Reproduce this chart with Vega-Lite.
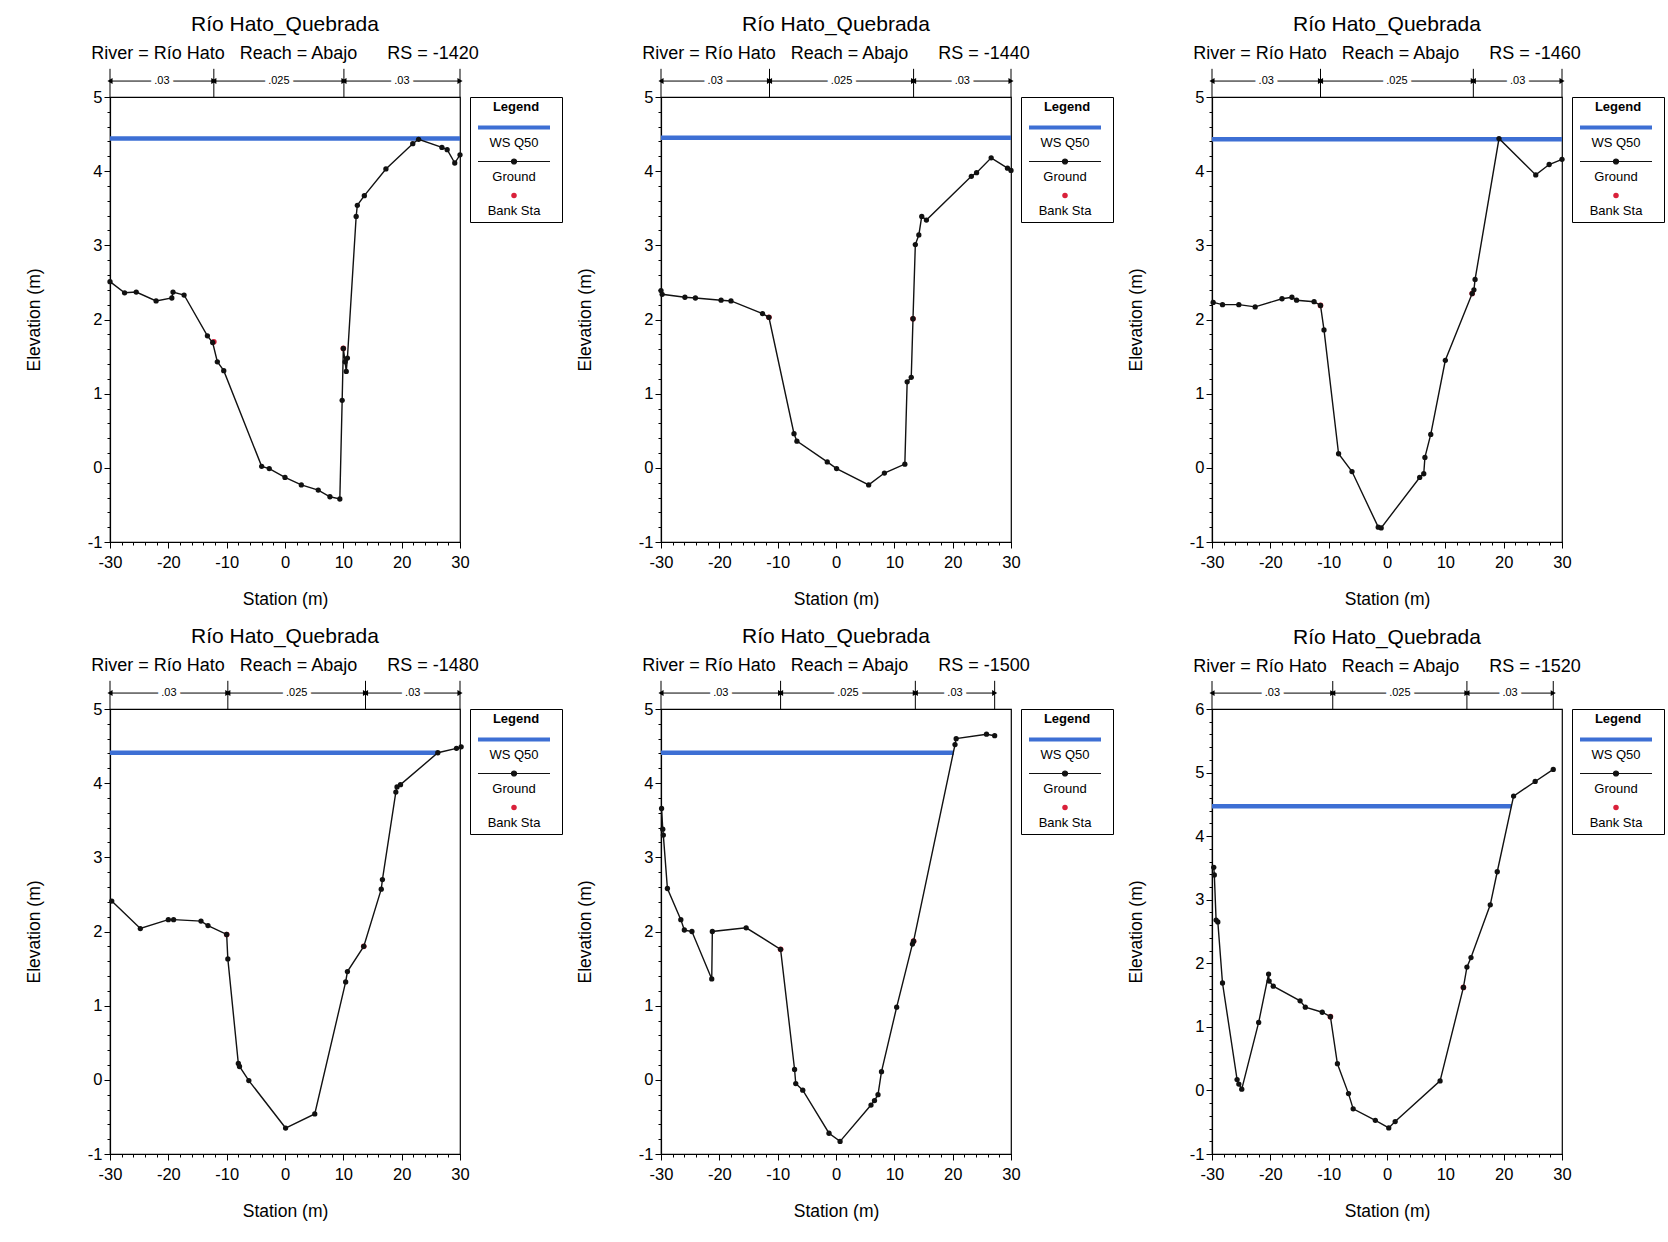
{
"$schema": "https://vega.github.io/schema/vega-lite/v6.json",
"background": "white",
"padding": {"left": 24, "top": 13, "right": 0, "bottom": 0},
"columns": 3,
"spacing": {"row": 16, "column": 11},
"resolve": {"scale": {"color": "independent"}, "legend": {"color": "independent"}},
"config": {
  "font": "Liberation Sans",
  "locale": {"number": {"decimal": ".", "thousands": ",", "grouping": [3], "currency": ["$", ""], "minus": "-"}},
  "view": {"stroke": "black", "strokeWidth": 1.2},
  "axis": {"domainColor": "black", "tickColor": "black", "labelColor": "black", "titleColor": "black", "labelFontSize": 16.5, "titleFontSize": 17.5, "titleFontWeight": "normal", "grid": false, "domainWidth": 1.2},
  "title": {"fontSize": 21, "fontWeight": "normal", "subtitleFontSize": 18, "subtitleColor": "black", "color": "black", "anchor": "middle", "frame": "group", "offset": 5, "subtitlePadding": 10}
},
"data": {"values": [
{"rs":-1420,"k":"w","s":-30,"e":4.44},{"rs":-1420,"k":"w","s":30,"e":4.44},
{"rs":-1420,"k":"m","s":-30,"s2":-12.2,"mid":-21.1,"n":".03"},{"rs":-1420,"k":"m","s":-12.2,"s2":10.1,"mid":-1.05,"n":".025"},{"rs":-1420,"k":"m","s":10.1,"s2":30,"mid":20.05,"n":".03"},
{"rs":-1420,"k":"v","s":-30},{"rs":-1420,"k":"v","s":-12.2},{"rs":-1420,"k":"v","s":10.1},{"rs":-1420,"k":"v","s":30},
{"rs":-1420,"k":"b","s":-12.2,"e":1.70},{"rs":-1420,"k":"b","s":10.0,"e":1.61},
{"rs":-1420,"k":"g","s":-30,"e":2.51},{"rs":-1420,"k":"g","s":-27.5,"e":2.36},{"rs":-1420,"k":"g","s":-25.5,"e":2.37},{"rs":-1420,"k":"g","s":-22.1,"e":2.25},{"rs":-1420,"k":"g","s":-19.4,"e":2.29},{"rs":-1420,"k":"g","s":-19.2,"e":2.37},{"rs":-1420,"k":"g","s":-17.3,"e":2.33},{"rs":-1420,"k":"g","s":-13.3,"e":1.78},{"rs":-1420,"k":"g","s":-12.4,"e":1.69},{"rs":-1420,"k":"g","s":-11.6,"e":1.43},{"rs":-1420,"k":"g","s":-10.5,"e":1.31},{"rs":-1420,"k":"g","s":-4.0,"e":0.02},{"rs":-1420,"k":"g","s":-2.7,"e":-0.01},{"rs":-1420,"k":"g","s":0,"e":-0.13},{"rs":-1420,"k":"g","s":2.8,"e":-0.23},{"rs":-1420,"k":"g","s":5.7,"e":-0.30},{"rs":-1420,"k":"g","s":7.7,"e":-0.39},{"rs":-1420,"k":"g","s":9.4,"e":-0.42},{"rs":-1420,"k":"g","s":9.8,"e":0.91},{"rs":-1420,"k":"g","s":10.0,"e":1.61},{"rs":-1420,"k":"g","s":10.3,"e":1.43},{"rs":-1420,"k":"g","s":10.5,"e":1.30},{"rs":-1420,"k":"g","s":10.7,"e":1.48},{"rs":-1420,"k":"g","s":12.2,"e":3.39},{"rs":-1420,"k":"g","s":12.4,"e":3.54},{"rs":-1420,"k":"g","s":13.6,"e":3.67},{"rs":-1420,"k":"g","s":17.3,"e":4.03},{"rs":-1420,"k":"g","s":21.9,"e":4.37},{"rs":-1420,"k":"g","s":22.9,"e":4.43},{"rs":-1420,"k":"g","s":26.9,"e":4.32},{"rs":-1420,"k":"g","s":27.8,"e":4.29},{"rs":-1420,"k":"g","s":29.1,"e":4.11},{"rs":-1420,"k":"g","s":30,"e":4.22},

{"rs":-1440,"k":"w","s":-30,"e":4.45},{"rs":-1440,"k":"w","s":30,"e":4.45},
{"rs":-1440,"k":"m","s":-30,"s2":-11.4,"mid":-20.7,"n":".03"},{"rs":-1440,"k":"m","s":-11.4,"s2":13.3,"mid":0.95,"n":".025"},{"rs":-1440,"k":"m","s":13.3,"s2":30,"mid":21.65,"n":".03"},
{"rs":-1440,"k":"v","s":-30},{"rs":-1440,"k":"v","s":-11.4},{"rs":-1440,"k":"v","s":13.3},{"rs":-1440,"k":"v","s":30},
{"rs":-1440,"k":"b","s":-11.5,"e":2.03},{"rs":-1440,"k":"b","s":13.2,"e":2.01},
{"rs":-1440,"k":"g","s":-30,"e":2.39},{"rs":-1440,"k":"g","s":-29.8,"e":2.34},{"rs":-1440,"k":"g","s":-25.9,"e":2.30},{"rs":-1440,"k":"g","s":-24.1,"e":2.29},{"rs":-1440,"k":"g","s":-19.7,"e":2.26},{"rs":-1440,"k":"g","s":-18.0,"e":2.25},{"rs":-1440,"k":"g","s":-12.6,"e":2.08},{"rs":-1440,"k":"g","s":-11.5,"e":2.03},{"rs":-1440,"k":"g","s":-7.2,"e":0.46},{"rs":-1440,"k":"g","s":-6.7,"e":0.36},{"rs":-1440,"k":"g","s":-1.5,"e":0.08},{"rs":-1440,"k":"g","s":0.1,"e":-0.01},{"rs":-1440,"k":"g","s":5.6,"e":-0.23},{"rs":-1440,"k":"g","s":8.3,"e":-0.07},{"rs":-1440,"k":"g","s":11.8,"e":0.05},{"rs":-1440,"k":"g","s":12.2,"e":1.16},{"rs":-1440,"k":"g","s":12.9,"e":1.22},{"rs":-1440,"k":"g","s":13.2,"e":2.01},{"rs":-1440,"k":"g","s":13.6,"e":3.01},{"rs":-1440,"k":"g","s":14.2,"e":3.14},{"rs":-1440,"k":"g","s":14.7,"e":3.39},{"rs":-1440,"k":"g","s":15.5,"e":3.34},{"rs":-1440,"k":"g","s":23.2,"e":3.93},{"rs":-1440,"k":"g","s":24.1,"e":3.98},{"rs":-1440,"k":"g","s":26.6,"e":4.18},{"rs":-1440,"k":"g","s":29.4,"e":4.04},{"rs":-1440,"k":"g","s":30,"e":4.01},

{"rs":-1460,"k":"w","s":-30,"e":4.43},{"rs":-1460,"k":"w","s":30,"e":4.43},
{"rs":-1460,"k":"m","s":-30,"s2":-11.4,"mid":-20.7,"n":".03"},{"rs":-1460,"k":"m","s":-11.4,"s2":14.8,"mid":1.7,"n":".025"},{"rs":-1460,"k":"m","s":14.8,"s2":30,"mid":22.4,"n":".03"},
{"rs":-1460,"k":"v","s":-30},{"rs":-1460,"k":"v","s":-11.4},{"rs":-1460,"k":"v","s":14.8},{"rs":-1460,"k":"v","s":30},
{"rs":-1460,"k":"b","s":-11.4,"e":2.19},{"rs":-1460,"k":"b","s":14.6,"e":2.35},
{"rs":-1460,"k":"g","s":-29.8,"e":2.23},{"rs":-1460,"k":"g","s":-28.2,"e":2.20},{"rs":-1460,"k":"g","s":-25.4,"e":2.20},{"rs":-1460,"k":"g","s":-22.6,"e":2.17},{"rs":-1460,"k":"g","s":-18.0,"e":2.28},{"rs":-1460,"k":"g","s":-16.3,"e":2.30},{"rs":-1460,"k":"g","s":-15.5,"e":2.26},{"rs":-1460,"k":"g","s":-12.5,"e":2.24},{"rs":-1460,"k":"g","s":-11.4,"e":2.19},{"rs":-1460,"k":"g","s":-10.8,"e":1.86},{"rs":-1460,"k":"g","s":-8.3,"e":0.19},{"rs":-1460,"k":"g","s":-6.0,"e":-0.05},{"rs":-1460,"k":"g","s":-1.5,"e":-0.80},{"rs":-1460,"k":"g","s":-1.0,"e":-0.81},{"rs":-1460,"k":"g","s":5.6,"e":-0.13},{"rs":-1460,"k":"g","s":6.3,"e":-0.08},{"rs":-1460,"k":"g","s":6.5,"e":0.14},{"rs":-1460,"k":"g","s":7.5,"e":0.45},{"rs":-1460,"k":"g","s":10.0,"e":1.45},{"rs":-1460,"k":"g","s":14.6,"e":2.35},{"rs":-1460,"k":"g","s":14.9,"e":2.40},{"rs":-1460,"k":"g","s":15.1,"e":2.54},{"rs":-1460,"k":"g","s":19.2,"e":4.44},{"rs":-1460,"k":"g","s":25.5,"e":3.95},{"rs":-1460,"k":"g","s":27.8,"e":4.09},{"rs":-1460,"k":"g","s":30,"e":4.16},

{"rs":-1480,"k":"w","s":-30,"e":4.41},{"rs":-1480,"k":"w","s":26.0,"e":4.41},
{"rs":-1480,"k":"m","s":-30,"s2":-9.8,"mid":-19.9,"n":".03"},{"rs":-1480,"k":"m","s":-9.8,"s2":13.8,"mid":2.0,"n":".025"},{"rs":-1480,"k":"m","s":13.8,"s2":30,"mid":21.9,"n":".03"},
{"rs":-1480,"k":"v","s":-30},{"rs":-1480,"k":"v","s":-9.8},{"rs":-1480,"k":"v","s":13.8},{"rs":-1480,"k":"v","s":30},
{"rs":-1480,"k":"b","s":-10.0,"e":1.96},{"rs":-1480,"k":"b","s":13.5,"e":1.80},
{"rs":-1480,"k":"g","s":-29.7,"e":2.41},{"rs":-1480,"k":"g","s":-24.8,"e":2.04},{"rs":-1480,"k":"g","s":-20.0,"e":2.16},{"rs":-1480,"k":"g","s":-19.1,"e":2.16},{"rs":-1480,"k":"g","s":-14.4,"e":2.14},{"rs":-1480,"k":"g","s":-13.2,"e":2.08},{"rs":-1480,"k":"g","s":-10.0,"e":1.96},{"rs":-1480,"k":"g","s":-9.8,"e":1.63},{"rs":-1480,"k":"g","s":-8.0,"e":0.22},{"rs":-1480,"k":"g","s":-7.8,"e":0.18},{"rs":-1480,"k":"g","s":-6.2,"e":-0.01},{"rs":-1480,"k":"g","s":0.1,"e":-0.65},{"rs":-1480,"k":"g","s":5.1,"e":-0.46},{"rs":-1480,"k":"g","s":10.4,"e":1.32},{"rs":-1480,"k":"g","s":10.7,"e":1.46},{"rs":-1480,"k":"g","s":13.5,"e":1.80},{"rs":-1480,"k":"g","s":16.5,"e":2.57},{"rs":-1480,"k":"g","s":16.7,"e":2.70},{"rs":-1480,"k":"g","s":19.0,"e":3.88},{"rs":-1480,"k":"g","s":19.2,"e":3.95},{"rs":-1480,"k":"g","s":19.8,"e":3.98},{"rs":-1480,"k":"g","s":26.2,"e":4.41},{"rs":-1480,"k":"g","s":29.4,"e":4.47},{"rs":-1480,"k":"g","s":30.2,"e":4.49},

{"rs":-1500,"k":"w","s":-30,"e":4.41},{"rs":-1500,"k":"w","s":20.2,"e":4.41},
{"rs":-1500,"k":"m","s":-30,"s2":-9.5,"mid":-19.75,"n":".03"},{"rs":-1500,"k":"m","s":-9.5,"s2":13.6,"mid":2.05,"n":".025"},{"rs":-1500,"k":"m","s":13.6,"s2":27.2,"mid":20.4,"n":".03"},
{"rs":-1500,"k":"v","s":-30},{"rs":-1500,"k":"v","s":-9.5},{"rs":-1500,"k":"v","s":13.6},{"rs":-1500,"k":"v","s":27.2},
{"rs":-1500,"k":"b","s":-9.5,"e":1.76},{"rs":-1500,"k":"b","s":13.3,"e":1.87},
{"rs":-1500,"k":"g","s":-29.9,"e":3.66},{"rs":-1500,"k":"g","s":-29.7,"e":3.38},{"rs":-1500,"k":"g","s":-29.6,"e":3.30},{"rs":-1500,"k":"g","s":-28.9,"e":2.58},{"rs":-1500,"k":"g","s":-26.6,"e":2.16},{"rs":-1500,"k":"g","s":-26.0,"e":2.02},{"rs":-1500,"k":"g","s":-24.7,"e":2.00},{"rs":-1500,"k":"g","s":-21.3,"e":1.36},{"rs":-1500,"k":"g","s":-21.2,"e":2.00},{"rs":-1500,"k":"g","s":-15.4,"e":2.05},{"rs":-1500,"k":"g","s":-9.5,"e":1.76},{"rs":-1500,"k":"g","s":-7.1,"e":0.14},{"rs":-1500,"k":"g","s":-6.9,"e":-0.05},{"rs":-1500,"k":"g","s":-5.7,"e":-0.14},{"rs":-1500,"k":"g","s":-1.2,"e":-0.72},{"rs":-1500,"k":"g","s":0.7,"e":-0.83},{"rs":-1500,"k":"g","s":6.0,"e":-0.34},{"rs":-1500,"k":"g","s":6.6,"e":-0.28},{"rs":-1500,"k":"g","s":7.2,"e":-0.20},{"rs":-1500,"k":"g","s":7.8,"e":0.11},{"rs":-1500,"k":"g","s":10.4,"e":0.98},{"rs":-1500,"k":"g","s":13.1,"e":1.83},{"rs":-1500,"k":"g","s":13.3,"e":1.87},{"rs":-1500,"k":"g","s":20.4,"e":4.52},{"rs":-1500,"k":"g","s":20.6,"e":4.60},{"rs":-1500,"k":"g","s":25.8,"e":4.66},{"rs":-1500,"k":"g","s":27.2,"e":4.64},

{"rs":-1520,"k":"w","s":-30,"e":4.47},{"rs":-1520,"k":"w","s":21.3,"e":4.47},
{"rs":-1520,"k":"m","s":-30,"s2":-9.3,"mid":-19.65,"n":".03"},{"rs":-1520,"k":"m","s":-9.3,"s2":13.7,"mid":2.2,"n":".025"},{"rs":-1520,"k":"m","s":13.7,"s2":28.5,"mid":21.1,"n":".03"},
{"rs":-1520,"k":"v","s":-30},{"rs":-1520,"k":"v","s":-9.3},{"rs":-1520,"k":"v","s":13.7},{"rs":-1520,"k":"v","s":28.5},
{"rs":-1520,"k":"b","s":-9.7,"e":1.16},{"rs":-1520,"k":"b","s":13.1,"e":1.62},
{"rs":-1520,"k":"g","s":-29.7,"e":3.51},{"rs":-1520,"k":"g","s":-29.6,"e":3.39},{"rs":-1520,"k":"g","s":-29.3,"e":2.68},{"rs":-1520,"k":"g","s":-29.0,"e":2.65},{"rs":-1520,"k":"g","s":-28.2,"e":1.69},{"rs":-1520,"k":"g","s":-25.7,"e":0.17},{"rs":-1520,"k":"g","s":-25.4,"e":0.10},{"rs":-1520,"k":"g","s":-24.9,"e":0.02},{"rs":-1520,"k":"g","s":-22.0,"e":1.07},{"rs":-1520,"k":"g","s":-20.3,"e":1.83},{"rs":-1520,"k":"g","s":-20.2,"e":1.72},{"rs":-1520,"k":"g","s":-19.5,"e":1.64},{"rs":-1520,"k":"g","s":-14.9,"e":1.41},{"rs":-1520,"k":"g","s":-14.0,"e":1.31},{"rs":-1520,"k":"g","s":-11.1,"e":1.23},{"rs":-1520,"k":"g","s":-9.7,"e":1.16},{"rs":-1520,"k":"g","s":-8.5,"e":0.42},{"rs":-1520,"k":"g","s":-6.6,"e":-0.05},{"rs":-1520,"k":"g","s":-5.8,"e":-0.29},{"rs":-1520,"k":"g","s":-2.0,"e":-0.47},{"rs":-1520,"k":"g","s":0.3,"e":-0.59},{"rs":-1520,"k":"g","s":1.4,"e":-0.49},{"rs":-1520,"k":"g","s":9.1,"e":0.15},{"rs":-1520,"k":"g","s":13.1,"e":1.62},{"rs":-1520,"k":"g","s":13.7,"e":1.94},{"rs":-1520,"k":"g","s":14.4,"e":2.09},{"rs":-1520,"k":"g","s":17.7,"e":2.92},{"rs":-1520,"k":"g","s":18.9,"e":3.44},{"rs":-1520,"k":"g","s":21.7,"e":4.63},{"rs":-1520,"k":"g","s":25.4,"e":4.86},{"rs":-1520,"k":"g","s":28.5,"e":5.05}
]},
"concat": [
{"width":350,"height":445,
 "title":{"text":"Río Hato_Quebrada","subtitle":"River = Río Hato\u00a0\u00a0\u00a0Reach = Abajo\u00a0\u00a0\u00a0\u00a0\u00a0\u00a0RS = -1420"},
 "transform":[{"filter":"datum.rs == -1420"}],
 "resolve":{"axis":{"x":"independent","y":"independent"}},
 "layer":[
 {"layer":[
  {"transform":[{"filter":"datum.k=='w'"}],"mark":{"type":"line","strokeWidth":4.5},
   "encoding":{
    "x":{"field":"s","type":"quantitative","title":"Station (m)","scale":{"domain":[-30,30],"nice":false,"zero":false},"axis":{"values":[-30,-20,-10,0,10,20,30],"format":"d","tickSize":6,"labelPadding":6,"labelOverlap":false,"labelFlush":false,"titlePadding":20}},
    "y":{"field":"e","type":"quantitative","title":"Elevation (m)","scale":{"domain":[-1,5],"nice":false,"zero":false},"axis":{"values":[-1,0,1,2,3,4,5],"format":"d","tickSize":6,"labelPadding":2,"labelOverlap":false,"labelFlush":false,"titlePadding":44}},
    "color":{"datum":"WS Q50","type":"nominal","scale":{"domain":["WS Q50","Ground","Bank Sta"],"range":["#3d6fd4","#111111","#d9203a"]},
     "legend":{"title":"Legend","orient":"right","offset":10,"titleAnchor":"middle","titleFontSize":13,"titleFontWeight":"bold","titlePadding":7,"labelFontSize":13,"strokeColor":"black","fillColor":"white","padding":4,"symbolSize":900,"rowPadding":5,
      "encode":{"symbols":{"update":{"x":{"value":40},"shape":{"signal":"datum.value === 'Bank Sta' ? 'circle' : (datum.value === 'Ground' ? 'M-1,0L1,0M-0.07,0A0.07,0.07,0,1,0,0.07,0A0.07,0.07,0,1,0,-0.07,0Z' : 'stroke')"},"size":{"signal":"datum.value === 'Bank Sta' ? 30 : 5184"},"strokeWidth":{"signal":"datum.value === 'WS Q50' ? 4 : (datum.value === 'Ground' ? 1.2 : 0)"},"stroke":{"signal":"datum.value === 'WS Q50' ? '#3d6fd4' : (datum.value === 'Ground' ? '#111111' : 'transparent')"},"fill":{"signal":"datum.value === 'Bank Sta' ? '#d9203a' : (datum.value === 'Ground' ? '#111111' : 'transparent')"},"opacity":{"value":1}}},"labels":{"update":{"x":{"value":40},"align":{"value":"center"},"dy":{"value":15}}}}}}}},
  {"transform":[{"filter":"datum.k=='m'"}],"mark":{"type":"rule","color":"black","strokeWidth":1},"encoding":{"x":{"field":"s","type":"quantitative"},"x2":{"field":"s2"},"y":{"datum":5.215}}},
  {"transform":[{"filter":"datum.k=='m'"}],"mark":{"type":"text","color":"white","stroke":"white","strokeWidth":8,"fontSize":11},"encoding":{"x":{"field":"mid","type":"quantitative"},"y":{"datum":5.215},"text":{"field":"n"}}},
  {"transform":[{"filter":"datum.k=='m'"}],"mark":{"type":"text","color":"black","fontSize":11},"encoding":{"x":{"field":"mid","type":"quantitative"},"y":{"datum":5.215},"text":{"field":"n"}}},
  {"transform":[{"filter":"datum.k=='m'"}],"mark":{"type":"point","shape":"triangle-left","filled":true,"color":"black","size":35,"opacity":1},"encoding":{"x":{"field":"s","type":"quantitative"},"y":{"datum":5.215}}},
  {"transform":[{"filter":"datum.k=='m'"}],"mark":{"type":"point","shape":"triangle-right","filled":true,"color":"black","size":35,"opacity":1},"encoding":{"x":{"field":"s2","type":"quantitative"},"y":{"datum":5.215}}},
  {"transform":[{"filter":"datum.k=='v'"}],"mark":{"type":"rule","color":"black","strokeWidth":1},"encoding":{"x":{"field":"s","type":"quantitative"},"y":{"datum":5},"y2":{"datum":5.38}}},
  {"transform":[{"filter":"datum.k=='b'"}],"mark":{"type":"point","filled":true,"size":32,"opacity":1},"encoding":{"x":{"field":"s","type":"quantitative"},"y":{"field":"e","type":"quantitative"},"color":{"datum":"Bank Sta","type":"nominal"}}},
  {"transform":[{"filter":"datum.k=='g'"}],"mark":{"type":"line","strokeWidth":1.4,"point":{"filled":true,"size":28,"opacity":1}},"encoding":{"x":{"field":"s","type":"quantitative"},"y":{"field":"e","type":"quantitative"},"color":{"datum":"Ground","type":"nominal"}}}
 ]},
 {"transform":[{"filter":"datum.k=='w'"}],"mark":{"type":"point","opacity":0},
  "encoding":{
   "x":{"field":"s","type":"quantitative","axis":{"orient":"bottom","values":[-30,-28,-26,-24,-22,-20,-18,-16,-14,-12,-10,-8,-6,-4,-2,0,2,4,6,8,10,12,14,16,18,20,22,24,26,28,30],"labels":false,"domain":false,"title":null,"tickSize":3}},
   "y":{"field":"e","type":"quantitative","axis":{"orient":"left","values":[-1,-0.8,-0.6,-0.4,-0.2,0,0.2,0.4,0.6,0.8,1,1.2,1.4,1.6,1.8,2,2.2,2.4,2.6,2.8,3,3.2,3.4,3.6,3.8,4,4.2,4.4,4.6,4.8,5],"labels":false,"domain":false,"title":null,"tickSize":3}}}}
 ]},
{"width":350,"height":445,
 "title":{"text":"Río Hato_Quebrada","subtitle":"River = Río Hato\u00a0\u00a0\u00a0Reach = Abajo\u00a0\u00a0\u00a0\u00a0\u00a0\u00a0RS = -1440"},
 "transform":[{"filter":"datum.rs == -1440"}],
 "resolve":{"axis":{"x":"independent","y":"independent"}},
 "layer":[
 {"layer":[
  {"transform":[{"filter":"datum.k=='w'"}],"mark":{"type":"line","strokeWidth":4.5},
   "encoding":{
    "x":{"field":"s","type":"quantitative","title":"Station (m)","scale":{"domain":[-30,30],"nice":false,"zero":false},"axis":{"values":[-30,-20,-10,0,10,20,30],"format":"d","tickSize":6,"labelPadding":6,"labelOverlap":false,"labelFlush":false,"titlePadding":20}},
    "y":{"field":"e","type":"quantitative","title":"Elevation (m)","scale":{"domain":[-1,5],"nice":false,"zero":false},"axis":{"values":[-1,0,1,2,3,4,5],"format":"d","tickSize":6,"labelPadding":2,"labelOverlap":false,"labelFlush":false,"titlePadding":44}},
    "color":{"datum":"WS Q50","type":"nominal","scale":{"domain":["WS Q50","Ground","Bank Sta"],"range":["#3d6fd4","#111111","#d9203a"]},
     "legend":{"title":"Legend","orient":"right","offset":10,"titleAnchor":"middle","titleFontSize":13,"titleFontWeight":"bold","titlePadding":7,"labelFontSize":13,"strokeColor":"black","fillColor":"white","padding":4,"symbolSize":900,"rowPadding":5,
      "encode":{"symbols":{"update":{"x":{"value":40},"shape":{"signal":"datum.value === 'Bank Sta' ? 'circle' : (datum.value === 'Ground' ? 'M-1,0L1,0M-0.07,0A0.07,0.07,0,1,0,0.07,0A0.07,0.07,0,1,0,-0.07,0Z' : 'stroke')"},"size":{"signal":"datum.value === 'Bank Sta' ? 30 : 5184"},"strokeWidth":{"signal":"datum.value === 'WS Q50' ? 4 : (datum.value === 'Ground' ? 1.2 : 0)"},"stroke":{"signal":"datum.value === 'WS Q50' ? '#3d6fd4' : (datum.value === 'Ground' ? '#111111' : 'transparent')"},"fill":{"signal":"datum.value === 'Bank Sta' ? '#d9203a' : (datum.value === 'Ground' ? '#111111' : 'transparent')"},"opacity":{"value":1}}},"labels":{"update":{"x":{"value":40},"align":{"value":"center"},"dy":{"value":15}}}}}}}},
  {"transform":[{"filter":"datum.k=='m'"}],"mark":{"type":"rule","color":"black","strokeWidth":1},"encoding":{"x":{"field":"s","type":"quantitative"},"x2":{"field":"s2"},"y":{"datum":5.215}}},
  {"transform":[{"filter":"datum.k=='m'"}],"mark":{"type":"text","color":"white","stroke":"white","strokeWidth":8,"fontSize":11},"encoding":{"x":{"field":"mid","type":"quantitative"},"y":{"datum":5.215},"text":{"field":"n"}}},
  {"transform":[{"filter":"datum.k=='m'"}],"mark":{"type":"text","color":"black","fontSize":11},"encoding":{"x":{"field":"mid","type":"quantitative"},"y":{"datum":5.215},"text":{"field":"n"}}},
  {"transform":[{"filter":"datum.k=='m'"}],"mark":{"type":"point","shape":"triangle-left","filled":true,"color":"black","size":35,"opacity":1},"encoding":{"x":{"field":"s","type":"quantitative"},"y":{"datum":5.215}}},
  {"transform":[{"filter":"datum.k=='m'"}],"mark":{"type":"point","shape":"triangle-right","filled":true,"color":"black","size":35,"opacity":1},"encoding":{"x":{"field":"s2","type":"quantitative"},"y":{"datum":5.215}}},
  {"transform":[{"filter":"datum.k=='v'"}],"mark":{"type":"rule","color":"black","strokeWidth":1},"encoding":{"x":{"field":"s","type":"quantitative"},"y":{"datum":5},"y2":{"datum":5.38}}},
  {"transform":[{"filter":"datum.k=='b'"}],"mark":{"type":"point","filled":true,"size":32,"opacity":1},"encoding":{"x":{"field":"s","type":"quantitative"},"y":{"field":"e","type":"quantitative"},"color":{"datum":"Bank Sta","type":"nominal"}}},
  {"transform":[{"filter":"datum.k=='g'"}],"mark":{"type":"line","strokeWidth":1.4,"point":{"filled":true,"size":28,"opacity":1}},"encoding":{"x":{"field":"s","type":"quantitative"},"y":{"field":"e","type":"quantitative"},"color":{"datum":"Ground","type":"nominal"}}}
 ]},
 {"transform":[{"filter":"datum.k=='w'"}],"mark":{"type":"point","opacity":0},
  "encoding":{
   "x":{"field":"s","type":"quantitative","axis":{"orient":"bottom","values":[-30,-28,-26,-24,-22,-20,-18,-16,-14,-12,-10,-8,-6,-4,-2,0,2,4,6,8,10,12,14,16,18,20,22,24,26,28,30],"labels":false,"domain":false,"title":null,"tickSize":3}},
   "y":{"field":"e","type":"quantitative","axis":{"orient":"left","values":[-1,-0.8,-0.6,-0.4,-0.2,0,0.2,0.4,0.6,0.8,1,1.2,1.4,1.6,1.8,2,2.2,2.4,2.6,2.8,3,3.2,3.4,3.6,3.8,4,4.2,4.4,4.6,4.8,5],"labels":false,"domain":false,"title":null,"tickSize":3}}}}
 ]},
{"width":350,"height":445,
 "title":{"text":"Río Hato_Quebrada","subtitle":"River = Río Hato\u00a0\u00a0\u00a0Reach = Abajo\u00a0\u00a0\u00a0\u00a0\u00a0\u00a0RS = -1460"},
 "transform":[{"filter":"datum.rs == -1460"}],
 "resolve":{"axis":{"x":"independent","y":"independent"}},
 "layer":[
 {"layer":[
  {"transform":[{"filter":"datum.k=='w'"}],"mark":{"type":"line","strokeWidth":4.5},
   "encoding":{
    "x":{"field":"s","type":"quantitative","title":"Station (m)","scale":{"domain":[-30,30],"nice":false,"zero":false},"axis":{"values":[-30,-20,-10,0,10,20,30],"format":"d","tickSize":6,"labelPadding":6,"labelOverlap":false,"labelFlush":false,"titlePadding":20}},
    "y":{"field":"e","type":"quantitative","title":"Elevation (m)","scale":{"domain":[-1,5],"nice":false,"zero":false},"axis":{"values":[-1,0,1,2,3,4,5],"format":"d","tickSize":6,"labelPadding":2,"labelOverlap":false,"labelFlush":false,"titlePadding":44}},
    "color":{"datum":"WS Q50","type":"nominal","scale":{"domain":["WS Q50","Ground","Bank Sta"],"range":["#3d6fd4","#111111","#d9203a"]},
     "legend":{"title":"Legend","orient":"right","offset":10,"titleAnchor":"middle","titleFontSize":13,"titleFontWeight":"bold","titlePadding":7,"labelFontSize":13,"strokeColor":"black","fillColor":"white","padding":4,"symbolSize":900,"rowPadding":5,
      "encode":{"symbols":{"update":{"x":{"value":40},"shape":{"signal":"datum.value === 'Bank Sta' ? 'circle' : (datum.value === 'Ground' ? 'M-1,0L1,0M-0.07,0A0.07,0.07,0,1,0,0.07,0A0.07,0.07,0,1,0,-0.07,0Z' : 'stroke')"},"size":{"signal":"datum.value === 'Bank Sta' ? 30 : 5184"},"strokeWidth":{"signal":"datum.value === 'WS Q50' ? 4 : (datum.value === 'Ground' ? 1.2 : 0)"},"stroke":{"signal":"datum.value === 'WS Q50' ? '#3d6fd4' : (datum.value === 'Ground' ? '#111111' : 'transparent')"},"fill":{"signal":"datum.value === 'Bank Sta' ? '#d9203a' : (datum.value === 'Ground' ? '#111111' : 'transparent')"},"opacity":{"value":1}}},"labels":{"update":{"x":{"value":40},"align":{"value":"center"},"dy":{"value":15}}}}}}}},
  {"transform":[{"filter":"datum.k=='m'"}],"mark":{"type":"rule","color":"black","strokeWidth":1},"encoding":{"x":{"field":"s","type":"quantitative"},"x2":{"field":"s2"},"y":{"datum":5.215}}},
  {"transform":[{"filter":"datum.k=='m'"}],"mark":{"type":"text","color":"white","stroke":"white","strokeWidth":8,"fontSize":11},"encoding":{"x":{"field":"mid","type":"quantitative"},"y":{"datum":5.215},"text":{"field":"n"}}},
  {"transform":[{"filter":"datum.k=='m'"}],"mark":{"type":"text","color":"black","fontSize":11},"encoding":{"x":{"field":"mid","type":"quantitative"},"y":{"datum":5.215},"text":{"field":"n"}}},
  {"transform":[{"filter":"datum.k=='m'"}],"mark":{"type":"point","shape":"triangle-left","filled":true,"color":"black","size":35,"opacity":1},"encoding":{"x":{"field":"s","type":"quantitative"},"y":{"datum":5.215}}},
  {"transform":[{"filter":"datum.k=='m'"}],"mark":{"type":"point","shape":"triangle-right","filled":true,"color":"black","size":35,"opacity":1},"encoding":{"x":{"field":"s2","type":"quantitative"},"y":{"datum":5.215}}},
  {"transform":[{"filter":"datum.k=='v'"}],"mark":{"type":"rule","color":"black","strokeWidth":1},"encoding":{"x":{"field":"s","type":"quantitative"},"y":{"datum":5},"y2":{"datum":5.38}}},
  {"transform":[{"filter":"datum.k=='b'"}],"mark":{"type":"point","filled":true,"size":32,"opacity":1},"encoding":{"x":{"field":"s","type":"quantitative"},"y":{"field":"e","type":"quantitative"},"color":{"datum":"Bank Sta","type":"nominal"}}},
  {"transform":[{"filter":"datum.k=='g'"}],"mark":{"type":"line","strokeWidth":1.4,"point":{"filled":true,"size":28,"opacity":1}},"encoding":{"x":{"field":"s","type":"quantitative"},"y":{"field":"e","type":"quantitative"},"color":{"datum":"Ground","type":"nominal"}}}
 ]},
 {"transform":[{"filter":"datum.k=='w'"}],"mark":{"type":"point","opacity":0},
  "encoding":{
   "x":{"field":"s","type":"quantitative","axis":{"orient":"bottom","values":[-30,-28,-26,-24,-22,-20,-18,-16,-14,-12,-10,-8,-6,-4,-2,0,2,4,6,8,10,12,14,16,18,20,22,24,26,28,30],"labels":false,"domain":false,"title":null,"tickSize":3}},
   "y":{"field":"e","type":"quantitative","axis":{"orient":"left","values":[-1,-0.8,-0.6,-0.4,-0.2,0,0.2,0.4,0.6,0.8,1,1.2,1.4,1.6,1.8,2,2.2,2.4,2.6,2.8,3,3.2,3.4,3.6,3.8,4,4.2,4.4,4.6,4.8,5],"labels":false,"domain":false,"title":null,"tickSize":3}}}}
 ]},
{"width":350,"height":445,
 "title":{"text":"Río Hato_Quebrada","subtitle":"River = Río Hato\u00a0\u00a0\u00a0Reach = Abajo\u00a0\u00a0\u00a0\u00a0\u00a0\u00a0RS = -1480"},
 "transform":[{"filter":"datum.rs == -1480"}],
 "resolve":{"axis":{"x":"independent","y":"independent"}},
 "layer":[
 {"layer":[
  {"transform":[{"filter":"datum.k=='w'"}],"mark":{"type":"line","strokeWidth":4.5},
   "encoding":{
    "x":{"field":"s","type":"quantitative","title":"Station (m)","scale":{"domain":[-30,30],"nice":false,"zero":false},"axis":{"values":[-30,-20,-10,0,10,20,30],"format":"d","tickSize":6,"labelPadding":6,"labelOverlap":false,"labelFlush":false,"titlePadding":20}},
    "y":{"field":"e","type":"quantitative","title":"Elevation (m)","scale":{"domain":[-1,5],"nice":false,"zero":false},"axis":{"values":[-1,0,1,2,3,4,5],"format":"d","tickSize":6,"labelPadding":2,"labelOverlap":false,"labelFlush":false,"titlePadding":44}},
    "color":{"datum":"WS Q50","type":"nominal","scale":{"domain":["WS Q50","Ground","Bank Sta"],"range":["#3d6fd4","#111111","#d9203a"]},
     "legend":{"title":"Legend","orient":"right","offset":10,"titleAnchor":"middle","titleFontSize":13,"titleFontWeight":"bold","titlePadding":7,"labelFontSize":13,"strokeColor":"black","fillColor":"white","padding":4,"symbolSize":900,"rowPadding":5,
      "encode":{"symbols":{"update":{"x":{"value":40},"shape":{"signal":"datum.value === 'Bank Sta' ? 'circle' : (datum.value === 'Ground' ? 'M-1,0L1,0M-0.07,0A0.07,0.07,0,1,0,0.07,0A0.07,0.07,0,1,0,-0.07,0Z' : 'stroke')"},"size":{"signal":"datum.value === 'Bank Sta' ? 30 : 5184"},"strokeWidth":{"signal":"datum.value === 'WS Q50' ? 4 : (datum.value === 'Ground' ? 1.2 : 0)"},"stroke":{"signal":"datum.value === 'WS Q50' ? '#3d6fd4' : (datum.value === 'Ground' ? '#111111' : 'transparent')"},"fill":{"signal":"datum.value === 'Bank Sta' ? '#d9203a' : (datum.value === 'Ground' ? '#111111' : 'transparent')"},"opacity":{"value":1}}},"labels":{"update":{"x":{"value":40},"align":{"value":"center"},"dy":{"value":15}}}}}}}},
  {"transform":[{"filter":"datum.k=='m'"}],"mark":{"type":"rule","color":"black","strokeWidth":1},"encoding":{"x":{"field":"s","type":"quantitative"},"x2":{"field":"s2"},"y":{"datum":5.215}}},
  {"transform":[{"filter":"datum.k=='m'"}],"mark":{"type":"text","color":"white","stroke":"white","strokeWidth":8,"fontSize":11},"encoding":{"x":{"field":"mid","type":"quantitative"},"y":{"datum":5.215},"text":{"field":"n"}}},
  {"transform":[{"filter":"datum.k=='m'"}],"mark":{"type":"text","color":"black","fontSize":11},"encoding":{"x":{"field":"mid","type":"quantitative"},"y":{"datum":5.215},"text":{"field":"n"}}},
  {"transform":[{"filter":"datum.k=='m'"}],"mark":{"type":"point","shape":"triangle-left","filled":true,"color":"black","size":35,"opacity":1},"encoding":{"x":{"field":"s","type":"quantitative"},"y":{"datum":5.215}}},
  {"transform":[{"filter":"datum.k=='m'"}],"mark":{"type":"point","shape":"triangle-right","filled":true,"color":"black","size":35,"opacity":1},"encoding":{"x":{"field":"s2","type":"quantitative"},"y":{"datum":5.215}}},
  {"transform":[{"filter":"datum.k=='v'"}],"mark":{"type":"rule","color":"black","strokeWidth":1},"encoding":{"x":{"field":"s","type":"quantitative"},"y":{"datum":5},"y2":{"datum":5.38}}},
  {"transform":[{"filter":"datum.k=='b'"}],"mark":{"type":"point","filled":true,"size":32,"opacity":1},"encoding":{"x":{"field":"s","type":"quantitative"},"y":{"field":"e","type":"quantitative"},"color":{"datum":"Bank Sta","type":"nominal"}}},
  {"transform":[{"filter":"datum.k=='g'"}],"mark":{"type":"line","strokeWidth":1.4,"point":{"filled":true,"size":28,"opacity":1}},"encoding":{"x":{"field":"s","type":"quantitative"},"y":{"field":"e","type":"quantitative"},"color":{"datum":"Ground","type":"nominal"}}}
 ]},
 {"transform":[{"filter":"datum.k=='w'"}],"mark":{"type":"point","opacity":0},
  "encoding":{
   "x":{"field":"s","type":"quantitative","axis":{"orient":"bottom","values":[-30,-28,-26,-24,-22,-20,-18,-16,-14,-12,-10,-8,-6,-4,-2,0,2,4,6,8,10,12,14,16,18,20,22,24,26,28,30],"labels":false,"domain":false,"title":null,"tickSize":3}},
   "y":{"field":"e","type":"quantitative","axis":{"orient":"left","values":[-1,-0.8,-0.6,-0.4,-0.2,0,0.2,0.4,0.6,0.8,1,1.2,1.4,1.6,1.8,2,2.2,2.4,2.6,2.8,3,3.2,3.4,3.6,3.8,4,4.2,4.4,4.6,4.8,5],"labels":false,"domain":false,"title":null,"tickSize":3}}}}
 ]},
{"width":350,"height":445,
 "title":{"text":"Río Hato_Quebrada","subtitle":"River = Río Hato\u00a0\u00a0\u00a0Reach = Abajo\u00a0\u00a0\u00a0\u00a0\u00a0\u00a0RS = -1500"},
 "transform":[{"filter":"datum.rs == -1500"}],
 "resolve":{"axis":{"x":"independent","y":"independent"}},
 "layer":[
 {"layer":[
  {"transform":[{"filter":"datum.k=='w'"}],"mark":{"type":"line","strokeWidth":4.5},
   "encoding":{
    "x":{"field":"s","type":"quantitative","title":"Station (m)","scale":{"domain":[-30,30],"nice":false,"zero":false},"axis":{"values":[-30,-20,-10,0,10,20,30],"format":"d","tickSize":6,"labelPadding":6,"labelOverlap":false,"labelFlush":false,"titlePadding":20}},
    "y":{"field":"e","type":"quantitative","title":"Elevation (m)","scale":{"domain":[-1,5],"nice":false,"zero":false},"axis":{"values":[-1,0,1,2,3,4,5],"format":"d","tickSize":6,"labelPadding":2,"labelOverlap":false,"labelFlush":false,"titlePadding":44}},
    "color":{"datum":"WS Q50","type":"nominal","scale":{"domain":["WS Q50","Ground","Bank Sta"],"range":["#3d6fd4","#111111","#d9203a"]},
     "legend":{"title":"Legend","orient":"right","offset":10,"titleAnchor":"middle","titleFontSize":13,"titleFontWeight":"bold","titlePadding":7,"labelFontSize":13,"strokeColor":"black","fillColor":"white","padding":4,"symbolSize":900,"rowPadding":5,
      "encode":{"symbols":{"update":{"x":{"value":40},"shape":{"signal":"datum.value === 'Bank Sta' ? 'circle' : (datum.value === 'Ground' ? 'M-1,0L1,0M-0.07,0A0.07,0.07,0,1,0,0.07,0A0.07,0.07,0,1,0,-0.07,0Z' : 'stroke')"},"size":{"signal":"datum.value === 'Bank Sta' ? 30 : 5184"},"strokeWidth":{"signal":"datum.value === 'WS Q50' ? 4 : (datum.value === 'Ground' ? 1.2 : 0)"},"stroke":{"signal":"datum.value === 'WS Q50' ? '#3d6fd4' : (datum.value === 'Ground' ? '#111111' : 'transparent')"},"fill":{"signal":"datum.value === 'Bank Sta' ? '#d9203a' : (datum.value === 'Ground' ? '#111111' : 'transparent')"},"opacity":{"value":1}}},"labels":{"update":{"x":{"value":40},"align":{"value":"center"},"dy":{"value":15}}}}}}}},
  {"transform":[{"filter":"datum.k=='m'"}],"mark":{"type":"rule","color":"black","strokeWidth":1},"encoding":{"x":{"field":"s","type":"quantitative"},"x2":{"field":"s2"},"y":{"datum":5.215}}},
  {"transform":[{"filter":"datum.k=='m'"}],"mark":{"type":"text","color":"white","stroke":"white","strokeWidth":8,"fontSize":11},"encoding":{"x":{"field":"mid","type":"quantitative"},"y":{"datum":5.215},"text":{"field":"n"}}},
  {"transform":[{"filter":"datum.k=='m'"}],"mark":{"type":"text","color":"black","fontSize":11},"encoding":{"x":{"field":"mid","type":"quantitative"},"y":{"datum":5.215},"text":{"field":"n"}}},
  {"transform":[{"filter":"datum.k=='m'"}],"mark":{"type":"point","shape":"triangle-left","filled":true,"color":"black","size":35,"opacity":1},"encoding":{"x":{"field":"s","type":"quantitative"},"y":{"datum":5.215}}},
  {"transform":[{"filter":"datum.k=='m'"}],"mark":{"type":"point","shape":"triangle-right","filled":true,"color":"black","size":35,"opacity":1},"encoding":{"x":{"field":"s2","type":"quantitative"},"y":{"datum":5.215}}},
  {"transform":[{"filter":"datum.k=='v'"}],"mark":{"type":"rule","color":"black","strokeWidth":1},"encoding":{"x":{"field":"s","type":"quantitative"},"y":{"datum":5},"y2":{"datum":5.38}}},
  {"transform":[{"filter":"datum.k=='b'"}],"mark":{"type":"point","filled":true,"size":32,"opacity":1},"encoding":{"x":{"field":"s","type":"quantitative"},"y":{"field":"e","type":"quantitative"},"color":{"datum":"Bank Sta","type":"nominal"}}},
  {"transform":[{"filter":"datum.k=='g'"}],"mark":{"type":"line","strokeWidth":1.4,"point":{"filled":true,"size":28,"opacity":1}},"encoding":{"x":{"field":"s","type":"quantitative"},"y":{"field":"e","type":"quantitative"},"color":{"datum":"Ground","type":"nominal"}}}
 ]},
 {"transform":[{"filter":"datum.k=='w'"}],"mark":{"type":"point","opacity":0},
  "encoding":{
   "x":{"field":"s","type":"quantitative","axis":{"orient":"bottom","values":[-30,-28,-26,-24,-22,-20,-18,-16,-14,-12,-10,-8,-6,-4,-2,0,2,4,6,8,10,12,14,16,18,20,22,24,26,28,30],"labels":false,"domain":false,"title":null,"tickSize":3}},
   "y":{"field":"e","type":"quantitative","axis":{"orient":"left","values":[-1,-0.8,-0.6,-0.4,-0.2,0,0.2,0.4,0.6,0.8,1,1.2,1.4,1.6,1.8,2,2.2,2.4,2.6,2.8,3,3.2,3.4,3.6,3.8,4,4.2,4.4,4.6,4.8,5],"labels":false,"domain":false,"title":null,"tickSize":3}}}}
 ]},
{"width":350,"height":445,
 "title":{"text":"Río Hato_Quebrada","subtitle":"River = Río Hato\u00a0\u00a0\u00a0Reach = Abajo\u00a0\u00a0\u00a0\u00a0\u00a0\u00a0RS = -1520"},
 "transform":[{"filter":"datum.rs == -1520"}],
 "resolve":{"axis":{"x":"independent","y":"independent"}},
 "layer":[
 {"layer":[
  {"transform":[{"filter":"datum.k=='w'"}],"mark":{"type":"line","strokeWidth":4.5},
   "encoding":{
    "x":{"field":"s","type":"quantitative","title":"Station (m)","scale":{"domain":[-30,30],"nice":false,"zero":false},"axis":{"values":[-30,-20,-10,0,10,20,30],"format":"d","tickSize":6,"labelPadding":6,"labelOverlap":false,"labelFlush":false,"titlePadding":20}},
    "y":{"field":"e","type":"quantitative","title":"Elevation (m)","scale":{"domain":[-1,6],"nice":false,"zero":false},"axis":{"values":[-1,0,1,2,3,4,5,6],"format":"d","tickSize":6,"labelPadding":2,"labelOverlap":false,"labelFlush":false,"titlePadding":44}},
    "color":{"datum":"WS Q50","type":"nominal","scale":{"domain":["WS Q50","Ground","Bank Sta"],"range":["#3d6fd4","#111111","#d9203a"]},
     "legend":{"title":"Legend","orient":"right","offset":10,"titleAnchor":"middle","titleFontSize":13,"titleFontWeight":"bold","titlePadding":7,"labelFontSize":13,"strokeColor":"black","fillColor":"white","padding":4,"symbolSize":900,"rowPadding":5,
      "encode":{"symbols":{"update":{"x":{"value":40},"shape":{"signal":"datum.value === 'Bank Sta' ? 'circle' : (datum.value === 'Ground' ? 'M-1,0L1,0M-0.07,0A0.07,0.07,0,1,0,0.07,0A0.07,0.07,0,1,0,-0.07,0Z' : 'stroke')"},"size":{"signal":"datum.value === 'Bank Sta' ? 30 : 5184"},"strokeWidth":{"signal":"datum.value === 'WS Q50' ? 4 : (datum.value === 'Ground' ? 1.2 : 0)"},"stroke":{"signal":"datum.value === 'WS Q50' ? '#3d6fd4' : (datum.value === 'Ground' ? '#111111' : 'transparent')"},"fill":{"signal":"datum.value === 'Bank Sta' ? '#d9203a' : (datum.value === 'Ground' ? '#111111' : 'transparent')"},"opacity":{"value":1}}},"labels":{"update":{"x":{"value":40},"align":{"value":"center"},"dy":{"value":15}}}}}}}},
  {"transform":[{"filter":"datum.k=='m'"}],"mark":{"type":"rule","color":"black","strokeWidth":1},"encoding":{"x":{"field":"s","type":"quantitative"},"x2":{"field":"s2"},"y":{"datum":6.25}}},
  {"transform":[{"filter":"datum.k=='m'"}],"mark":{"type":"text","color":"white","stroke":"white","strokeWidth":8,"fontSize":11},"encoding":{"x":{"field":"mid","type":"quantitative"},"y":{"datum":6.25},"text":{"field":"n"}}},
  {"transform":[{"filter":"datum.k=='m'"}],"mark":{"type":"text","color":"black","fontSize":11},"encoding":{"x":{"field":"mid","type":"quantitative"},"y":{"datum":6.25},"text":{"field":"n"}}},
  {"transform":[{"filter":"datum.k=='m'"}],"mark":{"type":"point","shape":"triangle-left","filled":true,"color":"black","size":35,"opacity":1},"encoding":{"x":{"field":"s","type":"quantitative"},"y":{"datum":6.25}}},
  {"transform":[{"filter":"datum.k=='m'"}],"mark":{"type":"point","shape":"triangle-right","filled":true,"color":"black","size":35,"opacity":1},"encoding":{"x":{"field":"s2","type":"quantitative"},"y":{"datum":6.25}}},
  {"transform":[{"filter":"datum.k=='v'"}],"mark":{"type":"rule","color":"black","strokeWidth":1},"encoding":{"x":{"field":"s","type":"quantitative"},"y":{"datum":6},"y2":{"datum":6.44}}},
  {"transform":[{"filter":"datum.k=='b'"}],"mark":{"type":"point","filled":true,"size":32,"opacity":1},"encoding":{"x":{"field":"s","type":"quantitative"},"y":{"field":"e","type":"quantitative"},"color":{"datum":"Bank Sta","type":"nominal"}}},
  {"transform":[{"filter":"datum.k=='g'"}],"mark":{"type":"line","strokeWidth":1.4,"point":{"filled":true,"size":28,"opacity":1}},"encoding":{"x":{"field":"s","type":"quantitative"},"y":{"field":"e","type":"quantitative"},"color":{"datum":"Ground","type":"nominal"}}}
 ]},
 {"transform":[{"filter":"datum.k=='w'"}],"mark":{"type":"point","opacity":0},
  "encoding":{
   "x":{"field":"s","type":"quantitative","axis":{"orient":"bottom","values":[-30,-28,-26,-24,-22,-20,-18,-16,-14,-12,-10,-8,-6,-4,-2,0,2,4,6,8,10,12,14,16,18,20,22,24,26,28,30],"labels":false,"domain":false,"title":null,"tickSize":3}},
   "y":{"field":"e","type":"quantitative","axis":{"orient":"left","values":[-1,-0.8,-0.6,-0.4,-0.2,0,0.2,0.4,0.6,0.8,1,1.2,1.4,1.6,1.8,2,2.2,2.4,2.6,2.8,3,3.2,3.4,3.6,3.8,4,4.2,4.4,4.6,4.8,5,5.2,5.4,5.6,5.8,6],"labels":false,"domain":false,"title":null,"tickSize":3}}}}
 ]}
]
}
